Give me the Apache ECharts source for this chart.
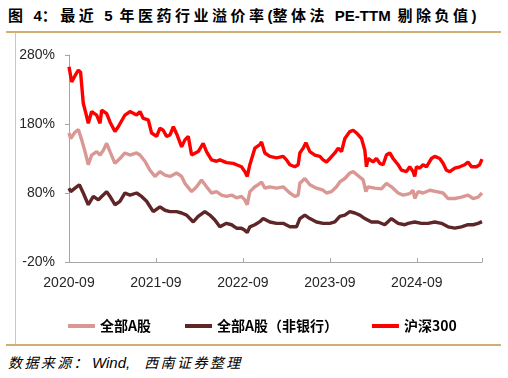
<!DOCTYPE html>
<html>
<head>
<meta charset="utf-8">
<script src="https://cdn.jsdelivr.net/npm/echarts@6/dist/echarts.min.js"></script>
<style>
  html, body { margin: 0; padding: 0; background: #fff; }
  #wrap { position: relative; width: 508px; height: 378px; overflow: hidden; }
  #title { position: absolute; left: 8px; top: 5px; font-family: "Noto Sans CJK SC", sans-serif; font-weight: bold; font-size: 15px; letter-spacing: 3.5px; color: #000; white-space: nowrap; line-height: 20px; }
  #title .lat { font-family: "Liberation Sans", Arial, sans-serif; letter-spacing: 0; }
  #topline { position: absolute; left: 6px; top: 31px; width: 495px; height: 2px; background: #D2AE74; }
  #botline { position: absolute; left: 6px; top: 344px; width: 495px; height: 2px; background: #D2AE74; }
  #leftline { position: absolute; left: 15px; top: 33px; width: 1px; height: 311px; background: #C8C8C8; }
  #source { position: absolute; left: 8px; top: 353px; font-family: "Noto Sans CJK SC", sans-serif; font-style: italic; font-size: 14px; letter-spacing: 2.4px; color: #000; white-space: nowrap; line-height: 18px; }
  #source .lat { font-family: "Liberation Sans", Arial, sans-serif; letter-spacing: 0; font-size: 15px; margin-right: 14px; margin-left: 2px; }
  #chart { position: absolute; left: 0; top: 0; width: 508px; height: 378px; }
</style>
</head>
<body>
<div id="wrap">
  <div id="title">图 <span class="lat">4</span>：最近 <span class="lat">5</span> 年医药行业溢价率<span class="lat">(</span>整体法 <span class="lat">PE-TTM</span> 剔除负值<span class="lat">)</span></div>
  <div id="topline"></div>
  <div id="leftline"></div>
  <div id="botline"></div>
  <div id="source">数据来源：<span class="lat">Wind,</span>西南证券整理</div>
  <div id="chart"></div>
</div>
<script>
// x: months since 2020-09; values in %
const xTickLabels = ['2020-09', '2021-09', '2022-09', '2023-09', '2024-09'];
const yTickLabels = ['-20%', '80%', '180%', '280%'];
const seriesNames = ['全部A股', '全部A股（非银行）', '沪深300'];

const hs300Months = [0,0.37,0.83,1.29,1.6,1.97,2.34,2.66,3.13,3.82,4.28,4.51,5.2,5.66,6.34,6.8,7.72,8.41,9.33,9.79,10.25,10.94,11.4,12.1,12.55,13,13.47,13.93,14.4,14.85,15.54,16,16.46,16.92,17.15,17.83,18.52,18.98,19.67,20.36,20.82,21.74,22.66,23.12,23.8,24.27,24.6,24.96,25.65,26.34,26.57,27.03,27.72,28.64,29.56,30.02,30.48,31.17,31.63,31.86,32.32,32.69,33.24,33.93,34.62,35.07,35.54,36,36.69,37.15,37.61,38.07,38.76,39.22,39.68,40.37,40.83,41.05,41.28,41.97,42.43,42.89,43.35,43.81,44.27,44.73,45.42,45.88,46.57,47.03,47.49,47.72,47.95,48.41,48.87,49.33,50.02,50.48,51.17,51.63,52.09,52.55,53.24,53.93,54.62,55.07,55.54,56.23,56.68,57];
const hs300Values = [263,241,250,258,255,210,195,181,198,193,181,200,195,183,169,176,193,198,193,198,188,186,167,162,174,171,162,164,176,166,147,157,162,135,137,140,152,140,128,126,128,124,123,121,118,111,104,121,145,150,154,138,133,131,133,128,121,118,121,138,145,153,140,135,133,128,125,130,138,145,140,159,169,171,167,159,142,118,130,125,130,123,121,135,138,130,121,113,111,118,111,104,118,116,121,118,130,133,130,123,113,111,116,118,121,125,118,118,121,129];

const allAMonths = [0,0.23,0.83,1.29,1.75,2.21,2.66,3.13,3.82,4.28,4.74,5.2,5.66,6.34,7.03,7.72,8.41,9.33,9.79,10.48,11.17,11.86,12.55,13.24,13.93,14.85,15.54,16,16.92,17.61,18.29,18.98,19.67,20.36,21.05,21.74,22.43,23.12,23.8,24.27,24.6,24.96,25.65,26.11,26.57,27.03,27.72,28.64,29.56,30.48,31.17,31.63,31.86,32.55,33.24,34.16,35.07,35.54,36.23,36.92,37.38,38.07,38.76,39.22,39.91,40.6,40.97,41.28,42.2,43.12,43.81,44.5,45.42,46.11,47.03,47.49,47.72,48.18,48.87,49.79,50.71,51.63,52.32,53.24,54.16,55.07,55.77,56.46,57];
const allAValues = [167,159,168,172,157,140,121,135,140,135,142,152,140,123,130,138,135,138,135,126,113,104,111,106,104,109,104,94,82,89,99,89,80,82,77,75,77,73,75,70,63,82,89,92,96,87,89,87,89,80,75,77,94,101,92,87,84,80,82,89,96,101,109,111,105,99,82,89,87,86,94,89,80,77,79,84,72,82,80,84,82,80,72,72,74,77,72,74,80];

const exBankMonths = [0,0.23,0.83,1.43,1.97,2.66,3.36,4.05,4.51,5.2,5.66,6.34,7.03,7.72,8.41,9.33,10.02,10.71,11.63,12.55,13.24,13.93,14.85,15.54,16.23,17.15,17.83,18.75,19.44,20.13,20.82,21.74,22.43,23.12,23.8,24.27,24.6,24.96,25.65,26.34,26.8,27.72,28.64,29.56,30.48,31.4,31.86,32.55,33.24,34.16,35.07,35.99,36.69,37.38,38.07,38.76,39.45,40.14,40.83,41.74,42.66,43.58,44.5,45.42,46.34,46.8,47.72,48.64,49.56,50.48,51.4,52.32,53.24,54.16,55.07,55.77,56.46,57];
const exBankValues = [87,82,87,92,80,63,75,70,75,82,75,63,68,80,77,80,75,68,53,60,55,53,53,51,48,38,46,53,48,41,31,36,34,29,29,26,22.5,31,34,38.5,43,38,36,36,31,31,43,48,43,38,36,36,38,46,48,53,51,48,43,38,38,34,43,36,34,36,38,36,36,38,36,31,29,31,34,34,36,38.5];

const OFFSET = 20; // axis is drawn from 0..300 so that ticks fall on -20,80,180,280
function buildSeries(months, values) {
  return months.map((m, i) => [m, values[i] + OFFSET]);
}

const colors = ['#DA9894', '#5E2626', '#FF0000'];

const chart = echarts.init(document.getElementById('chart'), null, { renderer: 'canvas' });
chart.setOption({
  animation: false,
  backgroundColor: 'transparent',
  grid: { left: 69, right: 26, top: 55, bottom: 116, containLabel: false },
  xAxis: {
    type: 'value', min: 0, max: 57, interval: 12,
    axisLine: { show: true, lineStyle: { color: '#A6A6A6', width: 1 } },
    axisTick: { show: true, inside: true, length: 4, lineStyle: { color: '#A6A6A6' } },
    splitLine: { show: false },
    axisLabel: {
      margin: 14, color: '#262626', fontSize: 14, fontFamily: 'Liberation Sans, Arial, sans-serif',
      formatter: v => xTickLabels[Math.round(v / 12)] || ''
    }
  },
  yAxis: {
    type: 'value', min: 0, max: 300, interval: 100,
    axisLine: { show: true, lineStyle: { color: '#A6A6A6', width: 1 } },
    axisTick: { show: true, length: 4, lineStyle: { color: '#A6A6A6' } },
    splitLine: { show: false },
    axisLabel: {
      margin: 14, color: '#262626', fontSize: 14, fontFamily: 'Liberation Sans, Arial, sans-serif',
      formatter: v => yTickLabels[Math.round(v / 100)] || ''
    }
  },
  legend: {
    top: 314, left: 63, itemWidth: 27, itemHeight: 4, itemGap: 34,
    icon: 'rect',
    textStyle: { fontSize: 14, fontWeight: 'bold', color: '#000', fontFamily: 'Noto Sans CJK SC, sans-serif' },
    data: seriesNames
  },
  series: [
    { name: seriesNames[0], type: 'line', data: buildSeries(allAMonths, allAValues), showSymbol: false, symbol: 'none', lineStyle: { width: 3.4, color: colors[0] }, itemStyle: { color: colors[0] }, z: 2 },
    { name: seriesNames[1], type: 'line', data: buildSeries(exBankMonths, exBankValues), showSymbol: false, symbol: 'none', lineStyle: { width: 3.4, color: colors[1] }, itemStyle: { color: colors[1] }, z: 3 },
    { name: seriesNames[2], type: 'line', data: buildSeries(hs300Months, hs300Values), showSymbol: false, symbol: 'none', lineStyle: { width: 3.4, color: colors[2] }, itemStyle: { color: colors[2] }, z: 4 }
  ]
});
</script>
</body>
</html>
